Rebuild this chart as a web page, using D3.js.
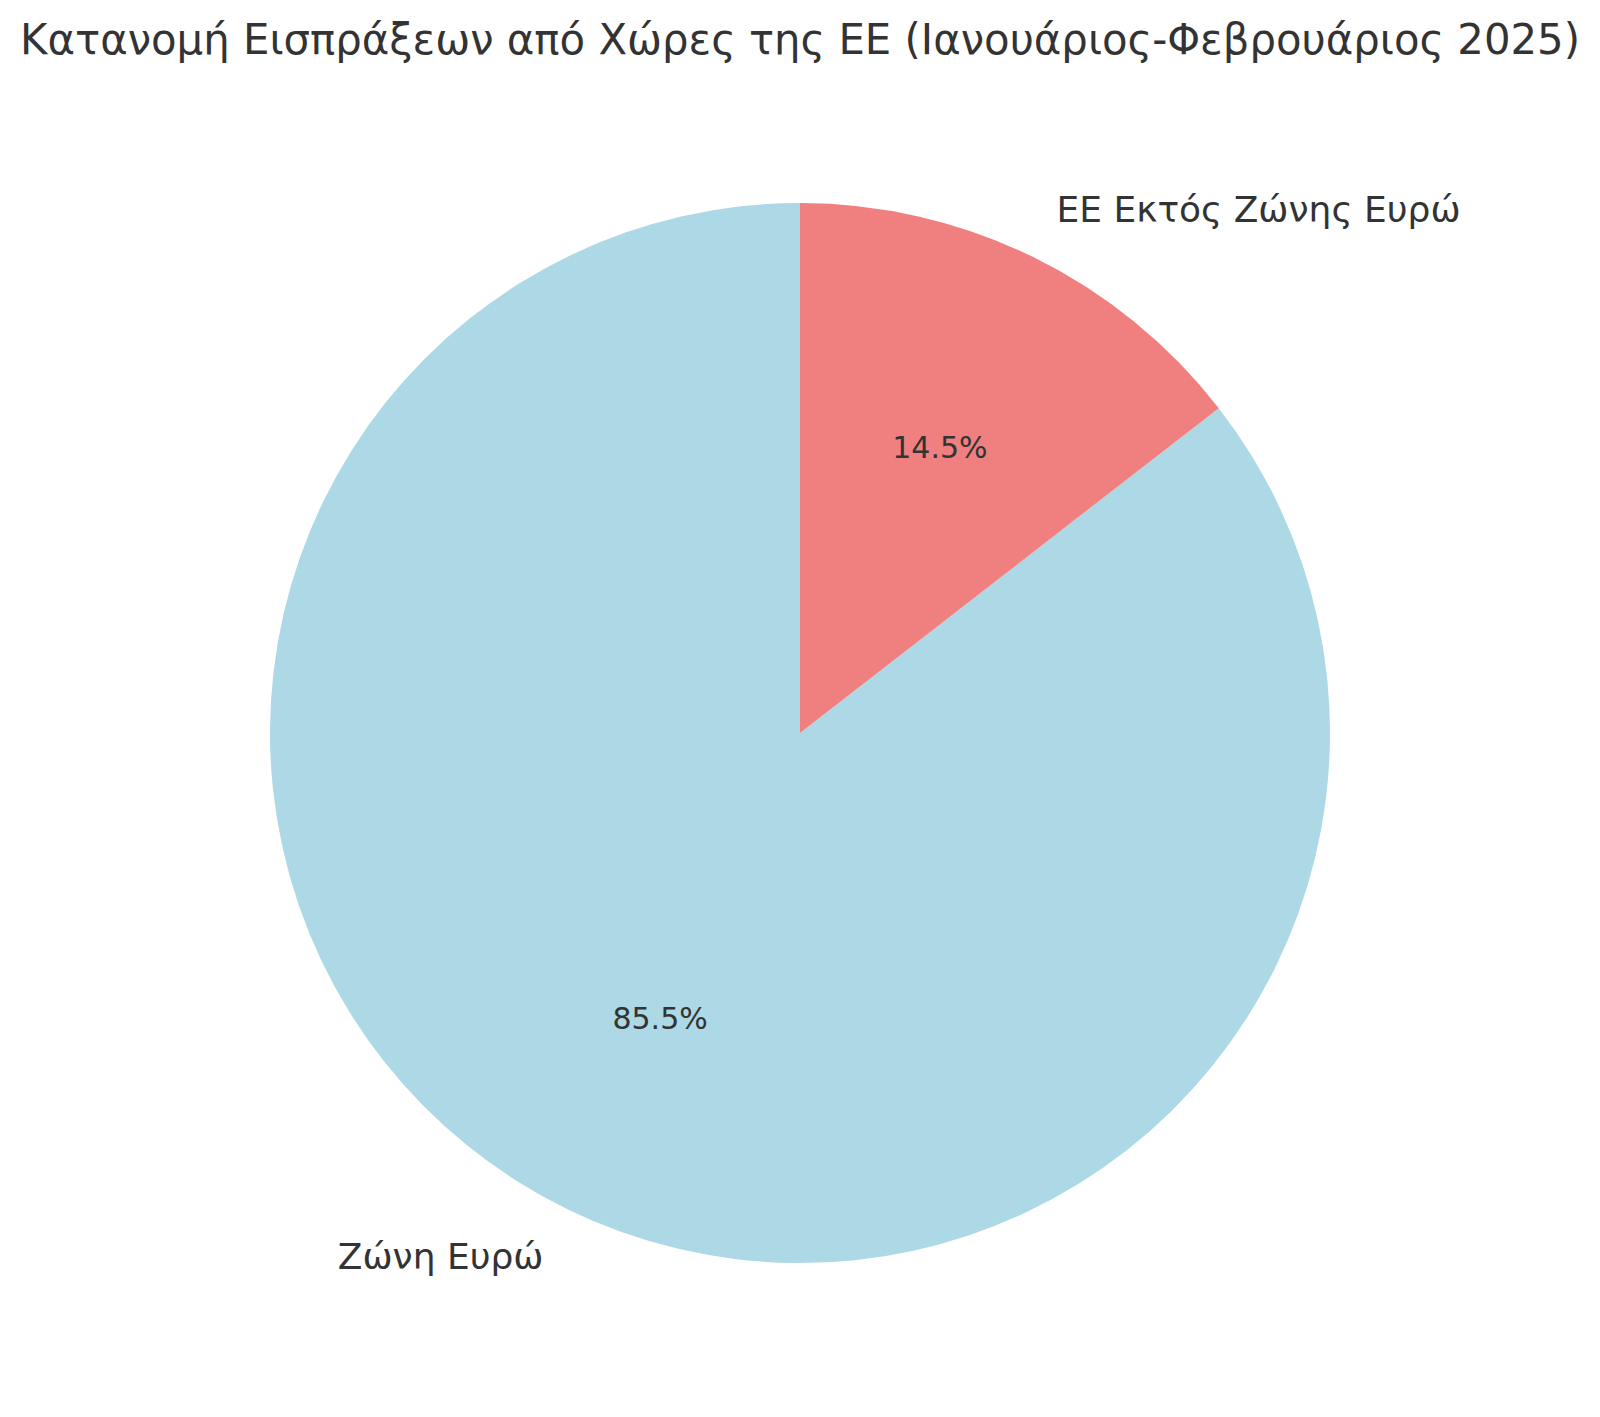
<!DOCTYPE html>
<html>
  <head>
    <meta charset="utf-8" />
    <style>
      body { margin: 0; background: #fff; }
      text { font-family: "DejaVu Sans", sans-serif; fill: #333; }
    </style>
  </head>
  <body>
    <div id="chart"></div>
    <script src="https://d3js.org/d3.v7.min.js"></script>
    <script>
    // data
    var labels = ['Ζώνη Ευρώ', 'ΕΕ Εκτός Ζώνης Ευρώ'];
    var shares = [85.5, 14.5];
    var colors = ['#ADD8E6', '#F08080'];
    var title = 'Κατανομή Εισπράξεων από Χώρες της ΕΕ (Ιανουάριος-Φεβρουάριος 2025)';

    var width = 1600,
        height = 1417,
        radius = 530;

    var data = labels.map(function(l, i) { return { label: l, value: shares[i] }; });

    var svg = d3.select('#chart')
      .append('svg')
      .attr('width', width)
      .attr('height', height);

    svg.append('text')
      .attr('x', 800)
      .attr('y', 54)
      .attr('text-anchor', 'middle')
      .style('font-size', '41.8px')
      .text(title);

    var g = svg.append('g')
      .attr('transform', 'translate(800,733)');

    // counterclockwise from the top, like matplotlib startangle=90
    var pie = d3.pie()
      .value(function(d) { return d.value; })
      .sort(null)
      .startAngle(0)
      .endAngle(-2 * Math.PI);

    var arc = d3.arc().innerRadius(0).outerRadius(radius);
    var labelArc = d3.arc().innerRadius(radius * 1.1).outerRadius(radius * 1.1);
    var pctArc = d3.arc().innerRadius(radius * 0.6).outerRadius(radius * 0.6);

    var arcs = pie(data);

    g.selectAll('path')
      .data(arcs)
      .enter().append('path')
      .attr('d', arc)
      .attr('fill', function(d, i) { return colors[i]; });

    g.selectAll('.label')
      .data(arcs)
      .enter().append('text')
      .attr('class', 'label')
      .attr('transform', function(d) { return 'translate(' + labelArc.centroid(d) + ')'; })
      .attr('text-anchor', function(d) { return labelArc.centroid(d)[0] > 0 ? 'start' : 'end'; })
      .attr('dy', '0.35em')
      .style('font-size', '36px')
      .text(function(d) { return d.data.label; });

    g.selectAll('.pct')
      .data(arcs)
      .enter().append('text')
      .attr('class', 'pct')
      .attr('transform', function(d) { return 'translate(' + pctArc.centroid(d) + ')'; })
      .attr('text-anchor', 'middle')
      .attr('dy', '0.35em')
      .style('font-size', '30px')
      .text(function(d) { return d.data.value.toFixed(1) + '%'; });
    </script>
  </body>
</html>
